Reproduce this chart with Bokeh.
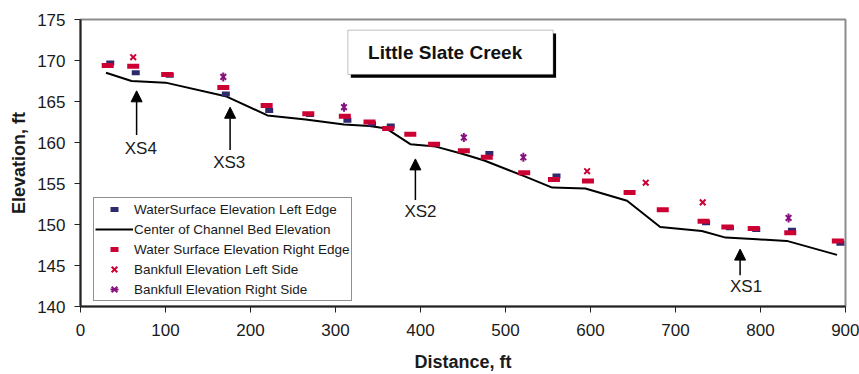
import math

from bokeh.core.properties import value
from bokeh.embed import file_html
from bokeh.models import (Arrow, BoxAnnotation, FixedTicker, Label, Legend,
                          LegendItem, NormalHead, Range1d)
from bokeh.plotting import figure
from bokeh.resources import INLINE

# Centre of channel bed profile
bed_distance = [30, 60, 100, 172, 220, 265, 310, 340, 360, 388, 418, 450,
                475, 522, 555, 594, 643, 682, 731, 759, 796, 831, 890]
bed_elevation = [168.5, 167.5, 167.3, 165.6, 163.3, 162.8, 162.2, 162.0,
                 161.7, 159.8, 159.5, 158.6, 157.8, 155.9, 154.5, 154.4,
                 152.9, 149.7, 149.2, 148.4, 148.2, 148.0, 146.3]

# Water surface, left edge
ws_left_distance = [35, 65, 105, 171, 222, 270, 314, 343, 365, 481, 560,
                    736, 764, 795, 837, 894]
ws_left_elevation = [169.7, 168.5, 168.2, 165.9, 163.9, 163.4, 162.7, 162.3,
                     162.0, 158.65, 155.9, 150.2, 149.6, 149.4, 149.3, 147.7]

# Water surface, right edge
ws_right_distance = [32, 62, 102, 168, 219, 268, 311, 340, 362, 388, 416,
                     451, 478, 522, 557, 597, 646, 685, 733, 761, 792, 835, 891]
ws_right_elevation = [169.4, 169.3, 168.3, 166.7, 164.5, 163.5, 163.2, 162.5,
                      161.7, 161.0, 159.8, 159.0, 158.2, 156.3, 155.5, 155.3,
                      153.9, 151.8, 150.4, 149.7, 149.5, 149.0, 148.0]

# Bankfull elevations
bf_left_distance = [62, 596, 665, 732]
bf_left_elevation = [170.4, 156.5, 155.1, 152.7]
bf_right_distance = [168, 310, 451, 521, 833]
bf_right_elevation = [168.0, 164.3, 160.6, 158.2, 150.8]

# Cross-section call-outs: name, arrow x, arrow tip y, arrow tail y, label y
xs_names = ["XS4", "XS3", "XS2", "XS1"]
xs_distance = [66, 176, 394, 776]
xs_tip = [166.3, 164.3, 158.0, 147.0]
xs_tail = [160.9, 159.1, 153.0, 143.8]
xs_label_x = [71, 175, 400, 783]
xs_label_y = [159.3, 157.6, 151.6, 142.4]

x_ticks = [0, 100, 200, 300, 400, 500, 600, 700, 800, 900]
y_ticks = [140, 145, 150, 155, 160, 165, 170, 175]

RED = "#cc0033"
NAVY = "#2f2a6e"
PURPLE = "#86107e"
FONT = "Liberation Sans"

p = figure(width=859, height=374, x_range=Range1d(0, 900),
           y_range=Range1d(140, 175), output_backend="svg",
           toolbar_location=None, min_border_left=80, min_border_right=14,
           min_border_top=19, min_border_bottom=68)
p.grid.visible = False
p.outline_line_color = "#8c8c8c"
p.outline_line_width = 2

for ax in (p.xaxis[0], p.yaxis[0]):
    ax.axis_line_color = "#222222"
    ax.axis_line_width = 2
    ax.major_tick_line_color = "#222222"
    ax.major_tick_line_width = 1
    ax.major_tick_in = 0
    ax.major_tick_out = 6
    ax.minor_tick_in = 0
    ax.minor_tick_out = 0
    ax.major_label_text_font = FONT
    ax.major_label_text_font_size = "17px"
    ax.major_label_text_color = "#1a1a1a"
    ax.axis_label_text_font = FONT
    ax.axis_label_text_font_size = "18px"
    ax.axis_label_text_font_style = "bold"
    ax.axis_label_text_color = "#1a1a1a"

p.xaxis.ticker = FixedTicker(ticks=x_ticks)
p.yaxis.ticker = FixedTicker(ticks=y_ticks)
p.xaxis.axis_label = "Distance, ft"
p.yaxis.axis_label = "Elevation, ft"
p.xaxis.major_label_standoff = 11
p.yaxis.major_label_standoff = 9
p.xaxis.axis_label_standoff = 13
p.yaxis.axis_label_standoff = 5

# Title box with drop shadow
shadow = BoxAnnotation(left=318, right=559.5, top=173.3, bottom=167.9,
                       fill_color="black", fill_alpha=1, line_alpha=0)
box = BoxAnnotation(left=314.5, right=556, top=173.7, bottom=168.3,
                    fill_color="white", fill_alpha=1,
                    line_color="#333333", line_width=1)
p.add_layout(shadow)
p.add_layout(box)
p.add_layout(Label(x=429, y=171, text="Little Slate Creek",
                   text_align="center", text_baseline="middle",
                   text_font=FONT, text_font_size="19px",
                   text_font_style="bold", text_color="#111111"))

bed = p.line(bed_distance, bed_elevation, line_color="black", line_width=2)
ws_left = p.scatter(ws_left_distance, ws_left_elevation, marker="dash",
                    size=8, line_width=5, line_color=NAVY)
ws_right = p.scatter(ws_right_distance, ws_right_elevation, marker="dash",
                     size=12, line_width=5, line_color=RED)
bf_left = p.scatter(bf_left_distance, bf_left_elevation, marker="x",
                    size=8, line_width=2, line_color=RED)
bf_right_x = p.scatter(bf_right_distance, bf_right_elevation, marker="x",
                       size=8, line_width=2, line_color=PURPLE)
bf_right_bar = p.scatter(bf_right_distance, bf_right_elevation, marker="dash",
                         size=9, angle=math.pi / 2, line_width=2,
                         line_color=PURPLE)

for name, xd, tip, tail, lx, ly in zip(xs_names, xs_distance, xs_tip,
                                       xs_tail, xs_label_x, xs_label_y):
    p.add_layout(Arrow(x_start=xd, y_start=tail, x_end=xd, y_end=tip,
                       line_color="black", line_width=1.5,
                       end=NormalHead(size=11, fill_color="black",
                                      line_color="black")))
    p.add_layout(Label(x=lx, y=ly, text=name, text_align="center",
                       text_baseline="middle", text_font=FONT,
                       text_font_size="17px", text_color="#1a1a1a"))

legend = Legend(items=[
    LegendItem(label="WaterSurface Elevation Left Edge", renderers=[ws_left]),
    LegendItem(label="Center of Channel Bed Elevation", renderers=[bed]),
    LegendItem(label="Water Surface Elevation Right Edge", renderers=[ws_right]),
    LegendItem(label="Bankfull Elevation Left Side", renderers=[bf_left]),
    LegendItem(label="Bankfull Elevation Right Side",
               renderers=[bf_right_x, bf_right_bar]),
], location=(13, 5))
legend.padding = 1
legend.spacing = 0
legend.glyph_width = 38
legend.glyph_height = 20
legend.label_height = 20
legend.label_standoff = 1
legend.margin = 0
legend.label_text_font = FONT
legend.label_text_font_size = "13.5px"
legend.label_text_color = "#1a1a1a"
legend.border_line_color = "#222222"
legend.border_line_width = 1
legend.background_fill_color = "white"
legend.background_fill_alpha = 1
p.add_layout(legend)

open("out.html", "w").write(file_html(p, INLINE))
